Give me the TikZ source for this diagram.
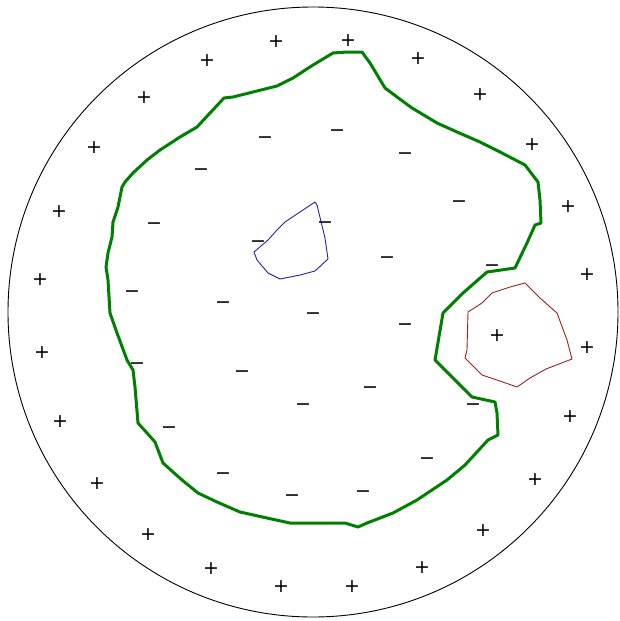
\documentclass[tikz,border=0pt]{standalone}
\usepackage{fontspec}
\newfontfamily\signfont{DejaVu Sans}
\definecolor{bnd}{RGB}{0,128,0}
\definecolor{bluepoly}{RGB}{35,35,165}
\definecolor{redpoly}{RGB}{160,30,30}
\tikzset{
  sign/.style={inner sep=0pt, anchor=base, yshift=-6.3pt, font=\signfont\fontsize{19}{19}\selectfont},
  outer/.style={draw=black, line width=0.9pt},
  gbound/.style={draw=bnd, line width=3pt, line join=round},
  thinpoly/.style={line width=0.9pt, line join=round}
}
\begin{document}
\begin{tikzpicture}[x=1pt,y=-1pt]
\useasboundingbox (0,0) rectangle (619,621);
\fill[white] (0,0) rectangle (619,621);
\draw[outer] (313,312) circle (305);
% green boundary
\draw[gbound] (106,267) -- (108,253) -- (112,237) -- (113,222) -- (118,207) -- (122,187) -- (125,182) -- (133,173) -- (147,160) -- (160,150) -- (180,137) -- (197,127) -- (210,113) -- (224,98) -- (233,97) -- (253,92) -- (277,86) -- (293,78) -- (313,65) -- (333,53) -- (347,52) -- (362,52) -- (370,63) -- (385,88) -- (397,97) -- (412,108) -- (437,123) -- (457,132) -- (480,142) -- (500,152) -- (525,165) -- (538,182) -- (540,200) -- (541,223) -- (535,225) -- (527,243) -- (515,268) -- (487,272) -- (463,293) -- (443,313) -- (435,360) -- (472,397) -- (495,402) -- (497,413) -- (498,435) -- (488,440) -- (465,465) -- (447,480) -- (417,500) -- (393,513) -- (367,523) -- (358,527) -- (345,523) -- (320,523) -- (290,523) -- (267,518) -- (240,512) -- (217,502) -- (198,493) -- (182,480) -- (163,463) -- (155,442) -- (147,433) -- (138,423) -- (135,387) -- (133,370) -- (127,360) -- (117,333) -- (110,313) -- (108,280) -- cycle;
% blue polygon
\draw[thinpoly, draw=bluepoly] (315,202) -- (300,212) -- (285,222) -- (277,230) -- (268,240) -- (254,252) -- (257,260) -- (268,273) -- (280,279) -- (300,275) -- (315,271) -- (328,259) -- (325,238) -- (317,205) -- cycle;
% red polygon
\draw[thinpoly, draw=redpoly] (525,283) -- (510,287) -- (492,293) -- (482,303) -- (468,312) -- (467,350) -- (465,358) -- (482,375) -- (497,380) -- (517,387) -- (530,378) -- (546,369) -- (572,359) -- (567,340) -- (557,313) -- (540,298) -- cycle;
% plus signs
\foreach \n/\x/\y in {p1/348/40, p2/276/41, p3/207/60, p4/418/58, p5/144/97, p6/480/94, p7/94/147, p8/532/144, p9/59/211, p10/568/206, p11/40/279, p12/587/274, p13/497/335, p14/587/347, p15/42/352, p16/570/416, p17/60/421, p18/535/479, p19/97/483, p20/483/530, p21/148/534, p22/422/567, p23/211/568, p24/352/586, p25/281/586}
  \node[sign] (\n) at (\x,\y) {+};
% minus signs
\foreach \n/\x/\y in {m1/265/137, m2/337/130, m3/405/153, m4/201/169, m5/459/201, m6/154/223, m7/325/222, m8/258/241, m9/387/257, m10/132/291, m11/492/265, m12/223/302, m13/313/313, m14/405/324, m15/137/363, m16/242/371, m17/370/387, m18/303/404, m19/473/404, m20/169/427, m21/427/458, m22/223/473, m23/292/495, m24/363/491}
  \node[sign] (\n) at (\x,\y) {−};
\end{tikzpicture}
\end{document}
